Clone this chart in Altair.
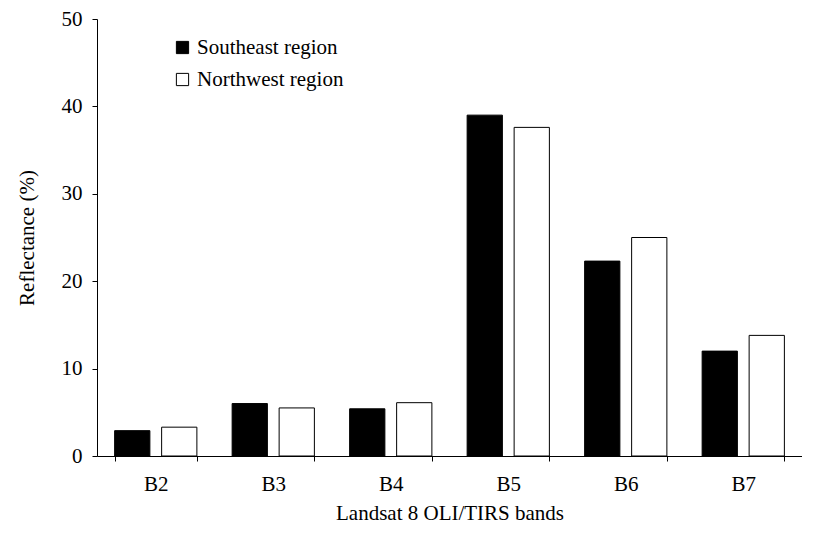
import altair as alt
import pandas as pd

bands = ["B2", "B3", "B4", "B5", "B6", "B7"]
southeast = [2.9, 6.0, 5.4, 39.0, 22.3, 12.0]
northwest = [3.3, 5.5, 6.1, 37.6, 25.0, 13.8]
regions = ["Southeast region", "Northwest region"]

rows = []
for b, s, n in zip(bands, southeast, northwest):
    rows.append({"band": b, "region": regions[0], "value": s})
    rows.append({"band": b, "region": regions[1], "value": n})
df = pd.DataFrame(rows)

font = "Liberation Serif"
ax = dict(domainColor="black", tickColor="black", labelFontSize=21, titleFontSize=21,
          labelColor="black", titleColor="black", labelFont=font, titleFont=font,
          titleFontWeight="normal")
chart = alt.Chart(df).mark_bar(stroke="black", strokeWidth=1).encode(
    x=alt.X("band:N", sort=bands, title="Landsat 8 OLI/TIRS bands",
            scale=alt.Scale(paddingInner=0.3, paddingOuter=0.15),
            axis=alt.Axis(labelAngle=0, tickBand="extent", labelPadding=12, titlePadding=8, **ax)),
    xOffset=alt.XOffset("region:N", sort=regions, scale=alt.Scale(paddingInner=0.25)),
    y=alt.Y("value:Q", title="Reflectance (%)",
            scale=alt.Scale(domain=[0, 50]),
            axis=alt.Axis(values=[0, 10, 20, 30, 40, 50], grid=False, labelPadding=10,
                          titlePadding=24, **ax)),
    fill=alt.Fill("region:N", sort=regions,
                  scale=alt.Scale(domain=regions, range=["black", "white"]),
                  legend=alt.Legend(title=None, orient="none", legendX=75, legendY=18,
                                    symbolType="square", symbolSize=150,
                                    symbolStrokeColor="black", symbolStrokeWidth=1,
                                    labelFont=font,
                                    labelFontSize=21, labelColor="black", rowPadding=10)),
).properties(width=705, height=437, padding={"left": 8, "top": 0, "right": 0, "bottom": 0}).configure(
    font=font
).configure_view(stroke=None)

chart.save("out.html", embed_options={"renderer": "svg", "actions": False})
